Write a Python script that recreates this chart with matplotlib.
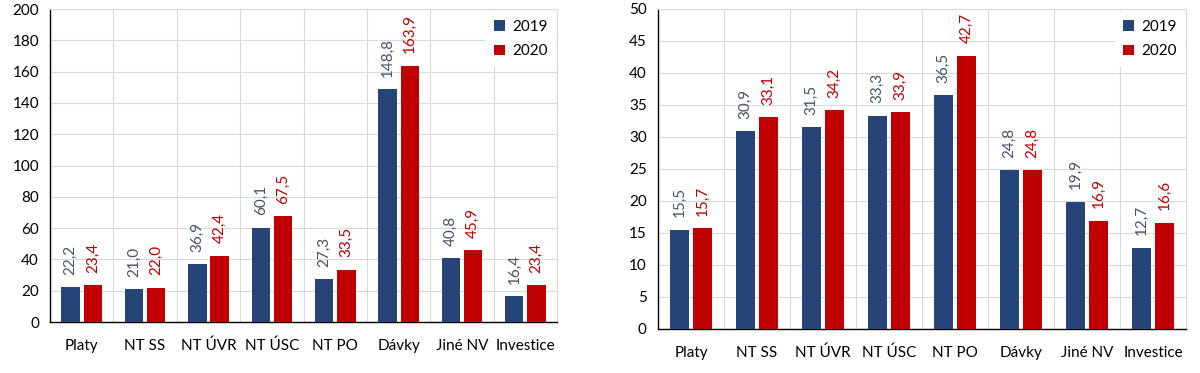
import numpy as np
import matplotlib
matplotlib.use('Agg')
import matplotlib.pyplot as plt
from matplotlib.ticker import FixedLocator

plt.rcParams['font.family'] = ['Lato', 'DejaVu Sans']

# Data
categories = ['Platy', 'NT SS', 'NT ÚVR', 'NT ÚSC', 'NT PO', 'Dávky', 'Jiné NV', 'Investice']
left_2019 = [22.2, 21.0, 36.9, 60.1, 27.3, 148.8, 40.8, 16.4]
left_2020 = [23.4, 22.0, 42.4, 67.5, 33.5, 163.9, 45.9, 23.4]
right_2019 = [15.5, 30.9, 31.5, 33.3, 36.5, 24.8, 19.9, 12.7]
right_2020 = [15.7, 33.1, 34.2, 33.9, 42.7, 24.8, 16.9, 16.6]

BLUE = '#264478'
RED = '#C00000'
LBL_BLUE = '#44546A'
GRID = '#D9D9D9'
FS = 11

fig = plt.figure(figsize=(12, 3.73), dpi=100)
ax1 = fig.add_axes([0.0417, 0.1367, 0.4225, 0.839])
ax2 = fig.add_axes([0.5483, 0.118, 0.44, 0.858])


def draw(ax, v19, v20, ymax, ystep):
    x = np.arange(len(categories))
    w = 0.29
    off = 0.175
    b1 = ax.bar(x - off, v19, w, color=BLUE, label='2019', zorder=3)
    b2 = ax.bar(x + off, v20, w, color=RED, label='2020', zorder=3)

    # popisky hodnot nad sloupci (svisle)
    for bars, col in [(b1, LBL_BLUE), (b2, RED)]:
        for p in bars:
            h = p.get_height()
            ax.annotate(f'{h:.1f}'.replace('.', ','),
                        (p.get_x() + p.get_width() / 2, h),
                        xytext=(0, 9), textcoords='offset points',
                        ha='center', va='bottom', rotation=90,
                        fontsize=FS, color=col, zorder=4)

    ax.set_xlim(-0.5, len(categories) - 0.5)
    ax.set_ylim(0, ymax)
    ax.set_yticks(np.arange(0, ymax + 0.01, ystep))
    ax.set_xticks(x)
    ax.set_xticklabels(categories)
    ax.xaxis.set_minor_locator(FixedLocator(np.arange(0.5, len(categories) - 0.5, 1)))
    ax.tick_params(axis='both', which='both', length=0, labelsize=FS, colors='black')
    ax.tick_params(axis='x', pad=12)
    ax.tick_params(axis='y', pad=8)

    ax.set_axisbelow(True)
    ax.grid(axis='y', color=GRID, linewidth=0.8)
    ax.grid(axis='x', which='minor', color=GRID, linewidth=0.8)

    for s in ['top', 'right']:
        ax.spines[s].set_color(GRID)
        ax.spines[s].set_linewidth(0.8)
    for s in ['left', 'bottom']:
        ax.spines[s].set_color('black')
        ax.spines[s].set_linewidth(1.0)

    leg = ax.legend(loc='upper right', bbox_to_anchor=(1.0, 0.995), borderaxespad=0.05,
                    fontsize=FS, frameon=True, fancybox=False, framealpha=1,
                    handlelength=0.7, handleheight=0.7, handletextpad=0.5,
                    labelspacing=0.7, borderpad=0.55)
    leg.get_frame().set_facecolor('white')
    leg.get_frame().set_edgecolor('none')


draw(ax1, left_2019, left_2020, 200, 20)
draw(ax2, right_2019, right_2020, 50, 5)

fig.savefig('out.png', dpi=100)
